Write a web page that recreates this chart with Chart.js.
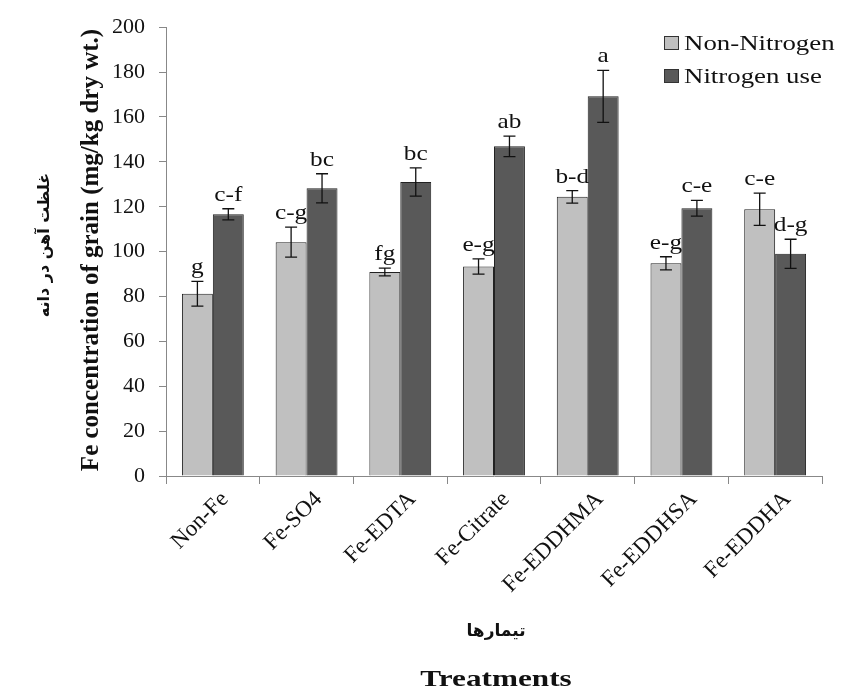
<!DOCTYPE html>
<html>
<head>
<meta charset="utf-8">
<script src="https://cdn.jsdelivr.net/npm/chart.js@4"></script>
<style>
  html, body { margin: 0; padding: 0; background: #fff; }
  #wrap { width: 842px; height: 688px; }
</style>
</head>
<body>
<div id="wrap"><canvas id="myChart" width="842" height="688"></canvas></div>
<script>
// Data
const categories = ["Non-Fe", "Fe-SO4", "Fe-EDTA", "Fe-Citrate", "Fe-EDDHMA", "Fe-EDDHSA", "Fe-EDDHA"];
const nonNitrogen = [81.2, 104.2, 90.9, 93.4, 124.4, 94.8, 118.9];
const nitrogenUse = [116.6, 128.2, 131.0, 146.9, 169.2, 119.3, 99.0];
const nonNitrogenErr = [5.5, 6.7, 1.7, 3.4, 2.8, 2.9, 7.2];
const nitrogenUseErr = [2.5, 6.5, 6.3, 4.6, 11.6, 3.5, 6.5];
const nonNitrogenLetters = ["g", "c-g", "fg", "e-g", "b-d", "e-g", "c-e"];
const nitrogenUseLetters = ["c-f", "bc", "bc", "ab", "a", "c-e", "d-g"];
const yTicks = [0, 20, 40, 60, 80, 100, 120, 140, 160, 180, 200];

const serif = "'Liberation Serif', 'Times New Roman', serif";
const errors = [nonNitrogenErr, nitrogenUseErr];
const letters = [nonNitrogenLetters, nitrogenUseLetters];

// text stretched a bit sideways, like the original image
function wideText(ctx, text, x, y, sx) {
  ctx.save();
  ctx.translate(x, y);
  ctx.scale(sx, 1);
  ctx.fillText(text, 0, 0);
  ctx.restore();
}

// error bars, letters, legend and axis titles
const extras = {
  id: "extras",
  afterDatasetsDraw(chart) {
    const ctx = chart.ctx;
    const y = chart.scales.y;
    ctx.save();
    chart.data.datasets.forEach((ds, di) => {
      const meta = chart.getDatasetMeta(di);
      meta.data.forEach((bar, i) => {
        const v = ds.data[i];
        const e = errors[di][i];
        const top = y.getPixelForValue(v + e);
        const bot = y.getPixelForValue(v - e);
        ctx.strokeStyle = "#111";
        ctx.lineWidth = 1.3;
        ctx.beginPath();
        ctx.moveTo(bar.x, top); ctx.lineTo(bar.x, bot);
        ctx.moveTo(bar.x - 6, top); ctx.lineTo(bar.x + 6, top);
        ctx.moveTo(bar.x - 6, bot); ctx.lineTo(bar.x + 6, bot);
        ctx.stroke();
        ctx.fillStyle = "#111";
        ctx.font = "22px " + serif;
        ctx.textAlign = "center";
        ctx.textBaseline = "alphabetic";
        wideText(ctx, letters[di][i], bar.x, top - 8, 1.15);
      });
    });

    // legend
    ctx.font = "22px " + serif;
    ctx.textAlign = "left";
    ctx.textBaseline = "middle";
    chart.data.datasets.forEach((ds, di) => {
      const ly = 43 + di * 33;
      ctx.fillStyle = ds.backgroundColor;
      ctx.fillRect(664, ly - 7, 15, 14);
      ctx.strokeStyle = "#333";
      ctx.lineWidth = 1;
      ctx.strokeRect(664.5, ly - 6.5, 14, 13);
      ctx.fillStyle = "#111";
      wideText(ctx, ds.label, 684, ly + 1, 1.22);
    });

    // y titles
    ctx.save();
    ctx.translate(92, 250);
    ctx.rotate(-Math.PI / 2);
    ctx.textAlign = "center";
    ctx.font = "bold 25px " + serif;
    ctx.fillText("Fe concentration of grain (mg/kg dry wt.)", 0, 0);
    ctx.restore();

    ctx.save();
    ctx.translate(45, 245);
    ctx.rotate(-Math.PI / 2);
    ctx.textAlign = "center";
    ctx.font = "bold 16px 'DejaVu Sans', sans-serif";
    ctx.fillText("غلظت آهن در دانه", 0, 0);
    ctx.restore();

    // x titles
    ctx.textAlign = "center";
    ctx.font = "bold 17px 'DejaVu Sans', sans-serif";
    ctx.fillText("تیمارها", 496, 632);
    ctx.font = "bold 24px " + serif;
    wideText(ctx, "Treatments", 496, 680, 1.3);
    ctx.restore();
  }
};

const ctx = document.getElementById("myChart").getContext("2d");
new Chart(ctx, {
  type: "bar",
  data: {
    labels: categories,
    datasets: [{
      label: "Non-Nitrogen",
      data: nonNitrogen,
      backgroundColor: "#c0c0c0",
      borderColor: "#222",
      borderWidth: 1,
      categoryPercentage: 0.66,
      barPercentage: 1.0
    }, {
      label: "Nitrogen use",
      data: nitrogenUse,
      backgroundColor: "#595959",
      borderColor: "#222",
      borderWidth: 1,
      categoryPercentage: 0.66,
      barPercentage: 1.0
    }]
  },
  options: {
    responsive: false,
    animation: false,
    layout: { padding: { top: 23, right: 20, left: 0, bottom: 0 } },
    plugins: {
      legend: { display: false },
      tooltip: { enabled: false }
    },
    scales: {
      x: {
        grid: { drawOnChartArea: false, drawTicks: true, tickLength: 8, color: "#888", offset: true },
        border: { color: "#888", width: 1 },
        ticks: {
          color: "#111",
          font: { family: serif, size: 23 },
          minRotation: 45,
          maxRotation: 45,
          padding: 2,
          labelOffset: 12
        },
        afterFit(scale) { scale.height = 212; }
      },
      y: {
        min: 0,
        max: 200,
        afterBuildTicks(scale) { scale.ticks = yTicks.map(v => ({ value: v })); },
        grid: { drawOnChartArea: false, drawTicks: true, tickLength: 7, color: "#888" },
        border: { color: "#888", width: 1 },
        ticks: {
          color: "#111",
          font: { family: serif, size: 22 },
          padding: 14
        },
        afterFit(scale) { scale.width = 166; }
      }
    }
  },
  plugins: [extras]
});
</script>
</body>
</html>
